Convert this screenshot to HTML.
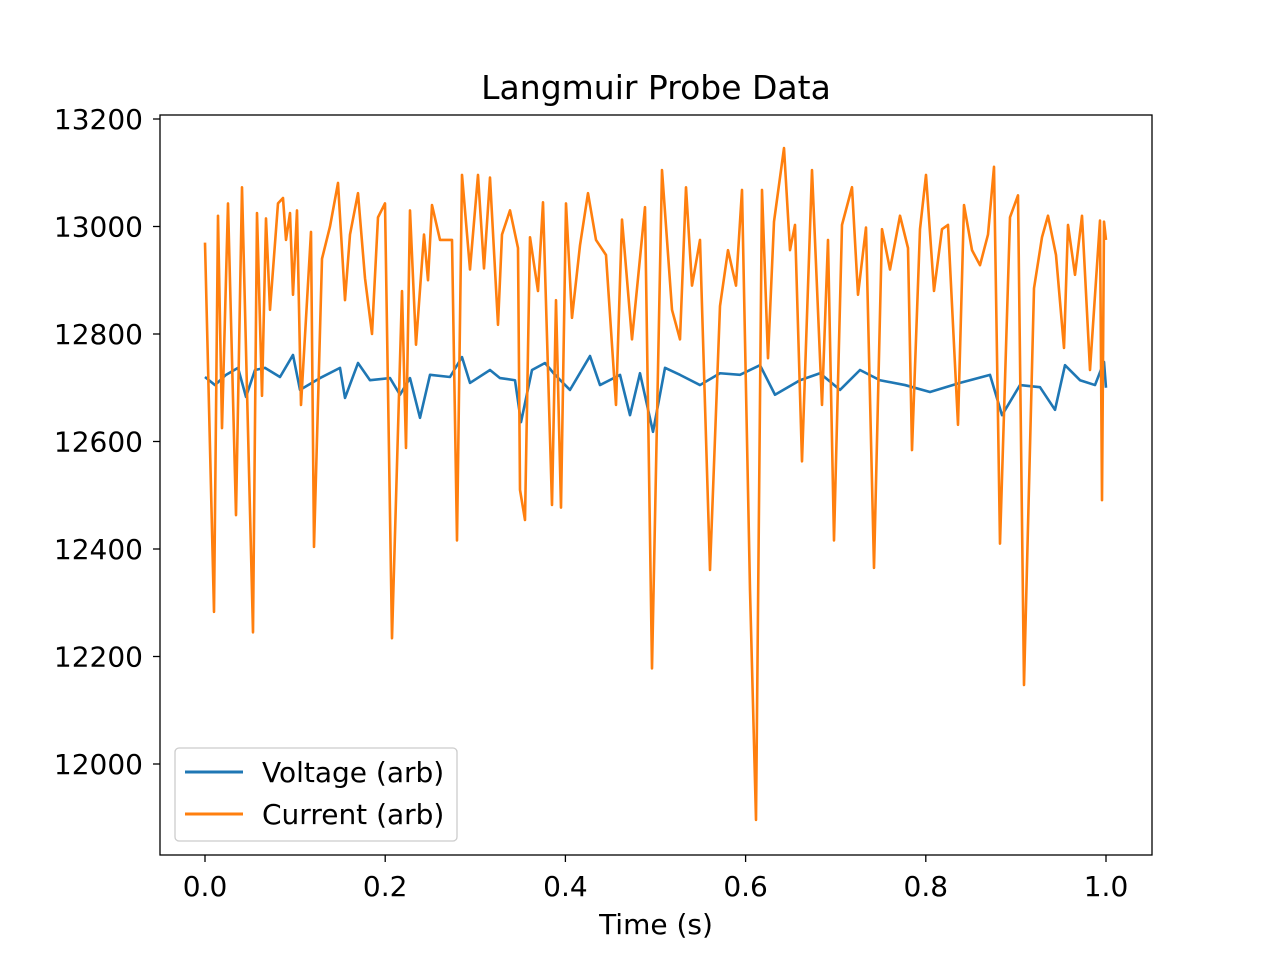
<!DOCTYPE html>
<html><head><meta charset="utf-8"><style>
body{margin:0;background:#fff}
svg text{font-family:"DejaVu Sans","Liberation Sans",sans-serif;fill:#000}
</style></head><body>
<svg id="chart" width="1280" height="960" xmlns="http://www.w3.org/2000/svg">
<rect width="1280" height="960" fill="#fff"/>
<text x="656" y="99" font-size="33" text-anchor="middle">Langmuir Probe Data</text>
<text x="656" y="934" font-size="28" text-anchor="middle">Time (s)</text>
<g id="series"></g>
<rect x="160" y="115" width="992" height="740" fill="none" stroke="#000" stroke-width="1.3"/>
<g id="ticks"></g>
<g>
<rect x="175" y="748" width="282" height="93" rx="4" fill="#fff" stroke="#ccc" stroke-width="1.3" fill-opacity="0.8"/>
<line x1="185" y1="772" x2="243" y2="772" stroke="#1f77b4" stroke-width="3"/>
<text x="262" y="782" font-size="28">Voltage (arb)</text>
<line x1="185" y1="814" x2="243" y2="814" stroke="#ff7f0e" stroke-width="3"/>
<text x="262" y="824" font-size="28">Current (arb)</text>
</g>
</svg>
<script>
const currentX=[205,214,218,222,228,236,242,247,253,257,262,266,270,278,283,286,290,293,297,301,311,314,322,330,338,345,350,358,365,372,378,385,392,402,406,410,416,424,428,432,440,452,457,462,470,478,484,490,498,502,510,518,520,525,530,538,543,552,556,561,566,572,580,588,596,606,616,622,632,645,652,662,672,680,686,692,700,710,720,728,736,742,750,756,762,768,774,784,790,795,802,812,822,828,834,842,852,858,866,874,882,890,900,908,912,920,926,934,942,948,958,964,972,980,988,994,1000,1010,1018,1024,1034,1042,1048,1056,1064,1068,1075,1082,1090,1100,1102,1104,1106];
const currentV=[12970,12283,13020,12625,13043,12463,13073,12695,12245,13025,12685,13015,12845,13043,13053,12975,13025,12873,13030,12668,12990,12404,12940,13000,13081,12863,12985,13062,12904,12800,13017,13043,12234,12880,12588,13030,12780,12985,12900,13040,12975,12975,12416,13096,12920,13096,12922,13091,12817,12985,13030,12960,12510,12454,12980,12880,13045,12482,12863,12477,13043,12830,12965,13062,12975,12947,12668,13013,12790,13036,12178,13105,12845,12790,13073,12890,12975,12361,12852,12956,12890,13068,12324,11896,13068,12755,13009,13146,12956,13003,12563,13105,12668,12975,12416,13003,13073,12873,12998,12365,12995,12920,13020,12960,12584,12995,13096,12880,12995,13003,12631,13040,12956,12928,12985,13111,12410,13017,13058,12147,12885,12980,13020,12947,12774,13003,12910,13020,12733,13011,12491,13009,12975];
const voltageX=[205,215,226,238,246,255,265,280,293,300,320,340,345,358,370,390,400,410,420,430,450,462,470,490,500,515,521,532,545,555,570,590,600,620,630,640,653,665,680,700,720,740,760,775,800,820,840,860,880,905,930,960,990,1002,1020,1040,1055,1065,1080,1095,1104,1106];
const voltageV=[12720,12705,12724,12737,12683,12733,12737,12720,12761,12696,12718,12737,12681,12746,12714,12718,12687,12718,12644,12724,12720,12757,12709,12733,12718,12714,12636,12733,12746,12724,12696,12759,12705,12724,12649,12727,12618,12737,12724,12705,12727,12724,12742,12687,12714,12727,12696,12733,12714,12705,12692,12709,12724,12649,12705,12701,12659,12742,12714,12705,12748,12700];
const xTicks=[0.0,0.2,0.4,0.6,0.8,1.0];
const xTickLabels=["0.0","0.2","0.4","0.6","0.8","1.0"];
const yTicks=[12000,12200,12400,12600,12800,13000,13200];
const NS="http://www.w3.org/2000/svg";
function xs(t){return 205+t*901;}
function ys(v){return 119+(13200-v)*107.5/200;}
function tOf(px){return (px-205)/901;}
const sg=document.getElementById('series');
function line(xArr,vArr,color,name){
  const p=document.createElementNS(NS,'polyline');
  p.setAttribute('points',xArr.map((x,i)=>xs(tOf(x))+','+ys(vArr[i])).join(' '));
  p.setAttribute('fill','none');p.setAttribute('stroke',color);p.setAttribute('stroke-width','2.6');
  p.setAttribute('stroke-linejoin','round');
  
  
  sg.appendChild(p);
}
line(voltageX,voltageV,'#1f77b4','voltage-line');
line(currentX,currentV,'#ff7f0e','current-line');
const tg=document.getElementById('ticks');
xTicks.forEach((t,i)=>{
  const x=xs(t);
  const l=document.createElementNS(NS,'line');
  l.setAttribute('x1',x);l.setAttribute('x2',x);l.setAttribute('y1',855);l.setAttribute('y2',862);l.setAttribute('stroke','#000');l.setAttribute('stroke-width','1.3');
  
  
  tg.appendChild(l);
  const tx=document.createElementNS(NS,'text');
  tx.setAttribute('x',x);tx.setAttribute('y',896);tx.setAttribute('font-size','28');tx.setAttribute('text-anchor','middle');
  tx.textContent=xTickLabels[i];
  
  
  tg.appendChild(tx);
});
yTicks.forEach(v=>{
  const y=ys(v);
  const l=document.createElementNS(NS,'line');
  l.setAttribute('x1',153);l.setAttribute('x2',160);l.setAttribute('y1',y);l.setAttribute('y2',y);l.setAttribute('stroke','#000');l.setAttribute('stroke-width','1.3');
  
  
  tg.appendChild(l);
  const tx=document.createElementNS(NS,'text');
  tx.setAttribute('x',143);tx.setAttribute('y',y+10);tx.setAttribute('font-size','28');tx.setAttribute('text-anchor','end');
  tx.textContent=String(v);
  
  
  tg.appendChild(tx);
});
</script>
</body></html>
